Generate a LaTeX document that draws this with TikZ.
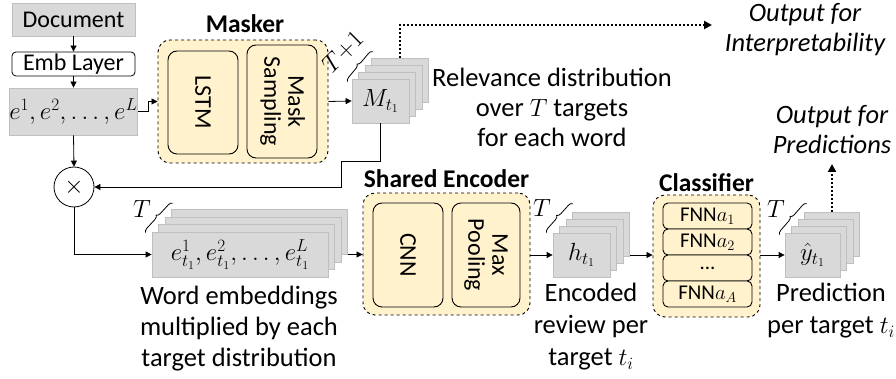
\documentclass[tikz,border=0pt]{standalone}
\usepackage{fontspec}
\setmainfont{Carlito}
\usetikzlibrary{arrows.meta,decorations.pathreplacing,calc}
\definecolor{boxgray}{HTML}{D9D9D9}
\definecolor{edgegray}{HTML}{BFBFBF}
\definecolor{lightyellow}{HTML}{FFF2CC}
\begin{document}
\begin{tikzpicture}[x=1pt,y=-1pt,
  txt/.style={font=\fontsize{26.5}{31}\selectfont, inner sep=0pt},
  graybox/.style={draw=edgegray, fill=boxgray, inner sep=0pt, line width=0.8pt, font=\fontsize{24}{29}\selectfont},
  stackbox/.style={draw=edgegray, fill=boxgray, inner sep=0pt, line width=0.8pt, font=\fontsize{25}{29}\selectfont},
  embbox/.style={draw=black, fill=white, rounded corners=4pt, inner sep=0pt, line width=0.8pt, font=\fontsize{24}{29}\selectfont},
  group/.style={draw=black, dashed, fill=lightyellow, rounded corners=12pt, line width=0.9pt, inner sep=0pt},
  inner/.style={draw=black, fill=lightyellow, rounded corners=9pt, line width=0.9pt, inner sep=0pt, font=\fontsize{24}{28}\selectfont, align=center},
  fnn/.style={draw=black, fill=lightyellow, rounded corners=5pt, line width=0.9pt, inner sep=0pt, minimum width=89pt, minimum height=26pt, font=\fontsize{21}{24}\selectfont},
  title/.style={font=\bfseries\fontsize{25.5}{28}\selectfont, inner sep=0pt},
  outtxt/.style={font=\itshape\fontsize{26.5}{30}\selectfont, inner sep=0pt, align=center},
  conn/.style={line width=0.8pt, -{Triangle[length=6pt,width=6pt]}},
  dotconn/.style={line width=2pt, dotted, -{Triangle[length=8pt,width=8pt]}},
  brc/.style={decorate, decoration={brace, amplitude=4pt}, line width=0.8pt}
]
\useasboundingbox (0,0) rectangle (896,379);

% left column
\node[graybox, minimum width=123pt, minimum height=33pt] (doc) at (73.5,19.5) {Document};
\node[embbox, minimum width=123pt, minimum height=24pt] (emb) at (73.5,64) {Emb Layer};
\node[graybox, minimum width=123pt, minimum height=47pt, font=\fontsize{25}{29}\selectfont] (ebox) at (73.5,111.5) {$e^1,e^2,\ldots,e^L$};
\node[draw=black, circle, minimum size=40pt, inner sep=0pt, line width=0.8pt, font=\fontsize{26}{30}\selectfont] (mul) at (74,187) {$\times$};

% masker
\node[title] (maskertitle) at (245,24) {Masker};
\node[group, minimum width=170pt, minimum height=123pt] (masker) at (243,101.5) {};
\node[inner, minimum width=70pt, minimum height=103pt] (lstm) at (203,102.5) {\rotatebox{-90}{LSTM}};
\node[inner, minimum width=70pt, minimum height=113pt] (msamp) at (282,101.5) {\rotatebox{-90}{\begin{tabular}{@{}c@{}}Mask\\[-4pt]Sampling\end{tabular}}};

% M stack
\foreach \k in {3,2,1}{
  \node[stackbox, minimum width=57pt, minimum height=44pt] (M\k) at ($(380.5,101)+\k*(6.5,-7)$) {};
}
\node[stackbox, minimum width=57pt, minimum height=44pt] (M0) at (380.5,101) {$M_{t_1}$};
\draw[brc] ($(M0.north west)+(-4,3)$) -- ($(M3.north west)+(1.5,-6)$);
\node[txt, rotate=45, font=\fontsize{24}{28}\selectfont] (Mlab) at (343,52) {$T{+}1$};

% e_t stack
\foreach \k in {3,2,1}{
  \node[stackbox, minimum width=176pt, minimum height=45pt] (E\k) at ($(240,254.5)+\k*(6.5,-7.5)$) {};
}
\node[stackbox, minimum width=176pt, minimum height=45pt] (E0) at (240,254.5) {$e^1_{t_1},e^2_{t_1},\ldots,e^L_{t_1}$};
\draw[brc] ($(E0.north west)+(-6,1)$) -- ($(E3.north west)+(1.5,-6)$);
\node[txt, font=\fontsize{24}{28}\selectfont] (Elab) at (142,209) {$T$};

% shared encoder
\node[title] (enctitle) at (446.5,179) {Shared Encoder};
\node[group, minimum width=167pt, minimum height=122pt] (enc) at (446.5,254) {};
\node[inner, minimum width=70pt, minimum height=104pt] (cnn) at (408,255) {\rotatebox{-90}{CNN}};
\node[inner, minimum width=68pt, minimum height=104pt] (mpool) at (486,255) {\rotatebox{-90}{\begin{tabular}{@{}c@{}}Max\\[-4pt]Pooling\end{tabular}}};

% h stack
\foreach \k in {3,2,1}{
  \node[stackbox, minimum width=57pt, minimum height=44pt] (H\k) at ($(581.5,255)+\k*(6.5,-7)$) {};
}
\node[stackbox, minimum width=57pt, minimum height=44pt] (H0) at (581.5,255) {$h_{t_1}$};
\draw[brc] ($(H0.north west)+(-6,0)$) -- ($(H3.north west)+(0.5,-8)$);
\node[txt, font=\fontsize{24}{28}\selectfont] (Hlab) at (542,208) {$T$};

% classifier
\node[title] (clstitle) at (706.5,183) {Classifier};
\node[group, minimum width=107pt, minimum height=122pt] (cls) at (706.5,256) {};
\node[fnn] (f1) at (707.5,216) {FNN$a_1$};
\node[fnn] (f2) at (707.5,242) {FNN$a_2$};
\node[fnn] (f3) at (707.5,268) {\raisebox{-2pt}{...}};
\node[fnn] (f4) at (707.5,294) {FNN$a_A$};

% y-hat stack
\foreach \k in {3,2,1}{
  \node[stackbox, minimum width=55pt, minimum height=44pt] (Y\k) at ($(812.5,255)+\k*(6.5,-7)$) {};
}
\node[stackbox, minimum width=55pt, minimum height=44pt] (Y0) at (812.5,255) {$\hat{y}_{t_1}$};
\draw[brc] ($(Y0.north west)+(-5,2)$) -- ($(Y3.north west)+(2.5,-8)$);
\node[txt, font=\fontsize{24}{28}\selectfont] (Ylab) at (776,209) {$T$};

% text labels
\node[txt, align=center, font=\fontsize{26.5}{30}\selectfont] (relev) at (552,107) {Relevance distribution\\over $T$ targets\\for each word};
\node[outtxt] (outint) at (805,30) {Output for\\Interpretability};
\node[outtxt] (outpred) at (832,130) {Output for\\Predictions};
\node[txt, align=center, font=\fontsize{26.5}{31}\selectfont] (wordemb) at (239,329) {Word embeddings\\multiplied by each\\target distribution};
\node[txt, align=center, font=\fontsize{26.5}{32}\selectfont] (encrev) at (591,327) {Encoded\\review per\\target $t_i$};
\node[txt, align=center, font=\fontsize{26.5}{32}\selectfont] (predt) at (831,311) {Prediction\\per target $t_i$};

% connectors
\coordinate (intend) at (712,25);
\coordinate (predend) at (832,164);
\draw[conn] (doc) -- (emb);
\draw[conn] (emb) -- (ebox);
\draw[conn] (ebox.east) -- ++(10,0) |- (masker.west);
\draw[conn] (masker.east) -- (M0.west);
\draw[conn] (M0.south) -- (380.5,161) -- (341,161) |- (mul.east);
\draw[conn] (ebox.south) -- (mul.north);
\draw[conn] (mul.south) |- (E0.west);
\draw[conn] (E3.east |- E0.east) -- (enc.west |- E0.east);
\draw[conn] (enc.east |- H0.west) -- (H0.west);
\draw[conn] (H3.east |- H0.east) -- (cls.west |- H0.east);
\draw[conn] (cls.east |- Y0.west) -- (Y0.west);
\draw[dotconn] (M3.north) |- (intend);
\draw[dotconn] (Y3.north) -- (predend);
\end{tikzpicture}
\end{document}
